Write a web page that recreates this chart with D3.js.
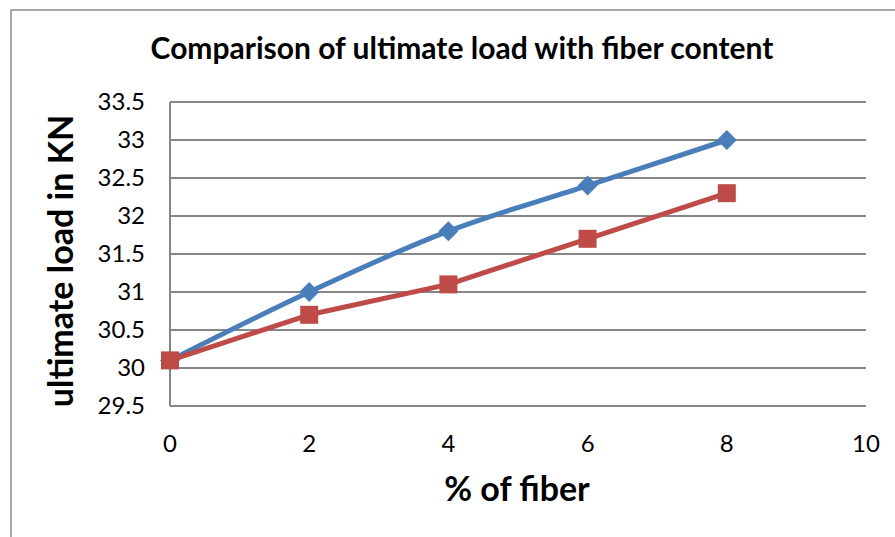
<!DOCTYPE html>
<html>
<head>
<meta charset="utf-8">
<script src="https://cdn.jsdelivr.net/npm/d3@7"></script>
<style>
  html, body { margin: 0; padding: 0; background: #fff; }
  text { font-family: Lato, "Open Sans", sans-serif; fill: #000; }
</style>
</head>
<body>
<svg id="chart" width="895" height="537"></svg>
<script>
// chart data
var fiberPct = [0, 2, 4, 6, 8];
var blueLoad = [30.1, 31.0, 31.8, 32.4, 33.0];
var redLoad = [30.1, 30.7, 31.1, 31.7, 32.3];
var yTicks = [29.5, 30, 30.5, 31, 31.5, 32, 32.5, 33, 33.5];
var xTicks = [0, 2, 4, 6, 8, 10];

var svg = d3.select("#chart");

var plotLeft = 170, plotRight = 866, plotTop = 102, plotBottom = 406;

var x = d3.scaleLinear().domain([0, 10]).range([plotLeft, plotRight]);
var y = d3.scaleLinear().domain([29.5, 33.5]).range([plotBottom, plotTop]);

// outer frame
svg.append("path")
    .attr("d", "M11,537V10H895")
    .attr("fill", "none")
    .attr("stroke", "#8c8c8c")
    .attr("stroke-width", 1.5);

// gridlines
svg.append("g")
    .selectAll("line")
    .data(yTicks)
    .join("line")
    .attr("x1", plotLeft)
    .attr("x2", plotRight)
    .attr("y1", function (d) { return y(d); })
    .attr("y2", function (d) { return y(d); })
    .attr("stroke", "#878787")
    .attr("stroke-width", 2);

// left axis line
svg.append("line")
    .attr("x1", plotLeft).attr("x2", plotLeft)
    .attr("y1", plotTop).attr("y2", plotBottom)
    .attr("stroke", "#878787")
    .attr("stroke-width", 2);

// y tick labels
svg.append("g")
    .selectAll("text")
    .data(yTicks)
    .join("text")
    .attr("x", 145)
    .attr("y", function (d) { return y(d); })
    .attr("dy", "0.35em")
    .attr("text-anchor", "end")
    .style("font-size", "24px")
    .text(function (d) { return d; });

// x tick labels
svg.append("g")
    .selectAll("text")
    .data(xTicks)
    .join("text")
    .attr("x", function (d) { return x(d); })
    .attr("y", 452)
    .attr("text-anchor", "middle")
    .style("font-size", "24px")
    .text(function (d) { return d; });

// series
var blueData = fiberPct.map(function (d, i) { return [d, blueLoad[i]]; });
var redData = fiberPct.map(function (d, i) { return [d, redLoad[i]]; });

var smooth = d3.line()
    .x(function (d) { return x(d[0]); })
    .y(function (d) { return y(d[1]); })
    .curve(d3.curveCatmullRom.alpha(0.5));

var straight = d3.line()
    .x(function (d) { return x(d[0]); })
    .y(function (d) { return y(d[1]); });

svg.append("path")
    .attr("d", smooth(blueData))
    .attr("fill", "none")
    .attr("stroke", "#4a7ebb")
    .attr("stroke-width", 5)
    .attr("stroke-linejoin", "round");

svg.append("g")
    .selectAll("path")
    .data(blueData)
    .join("path")
    .attr("transform", function (d) { return "translate(" + x(d[0]) + "," + y(d[1]) + ")"; })
    .attr("d", "M0,-10L10,0L0,10L-10,0Z")
    .attr("fill", "#4a7ebb");

svg.append("path")
    .attr("d", straight(redData))
    .attr("fill", "none")
    .attr("stroke", "#be4b48")
    .attr("stroke-width", 5)
    .attr("stroke-linejoin", "round");

svg.append("g")
    .selectAll("rect")
    .data(redData)
    .join("rect")
    .attr("x", function (d) { return x(d[0]) - 9; })
    .attr("y", function (d) { return y(d[1]) - 9; })
    .attr("width", 18)
    .attr("height", 18)
    .attr("fill", "#be4b48");

// titles
svg.append("text")
    .attr("x", 462)
    .attr("y", 59)
    .attr("text-anchor", "middle")
    .style("font-size", "30px")
    .style("font-weight", "bold")
    .text("Comparison of ultimate load with fiber content");

svg.append("text")
    .attr("transform", "translate(73,261) rotate(-90)")
    .attr("text-anchor", "middle")
    .style("font-size", "34px")
    .style("font-weight", "bold")
    .text("ultimate load in KN");

svg.append("text")
    .attr("x", 517)
    .attr("y", 501)
    .attr("text-anchor", "middle")
    .style("font-size", "34px")
    .style("font-weight", "bold")
    .text("% of fiber");
</script>
</body>
</html>
